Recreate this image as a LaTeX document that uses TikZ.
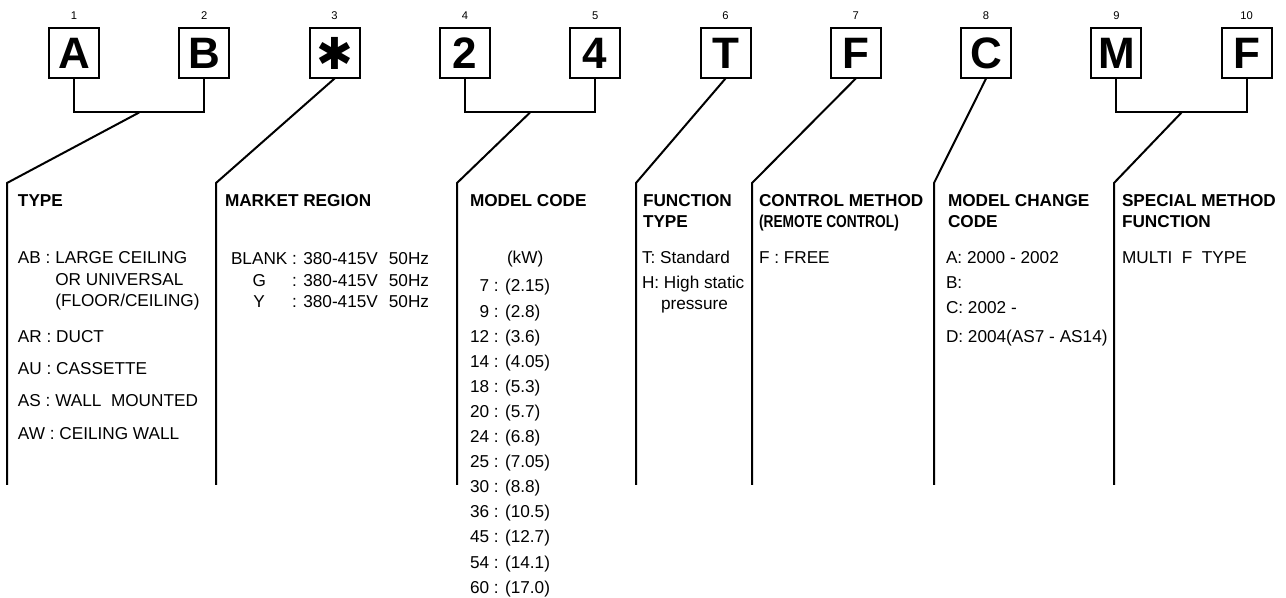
\documentclass[tikz,border=0pt]{standalone}
\usepackage{fontspec}
\setmainfont{Liberation Sans}
\newfontfamily\symfont{DejaVu Sans}
\usetikzlibrary{positioning, calc}

\begin{document}
\begin{tikzpicture}[
    x=0.5pt, y=-0.5pt,
    font=\fontsize{8.6}{10.7}\selectfont,
    node distance=40.15pt,
    every node/.style={inner sep=0pt, outer sep=0pt},
    codebox/.style={rectangle, draw, line width=1pt, minimum size=25pt,
                    font=\fontsize{22}{22}\selectfont\bfseries},
    idx/.style  ={font=\fontsize{5.6}{6}\selectfont},
    head/.style ={anchor=base west, font=\fontsize{8.6}{10.5}\selectfont\bfseries},
    body/.style ={anchor=base west},
    conn/.style ={line width=1pt}
]
\useasboundingbox (0,0) rectangle (1286,598);

% Code boxes
\node[codebox] (c1) at (74,53.5) {A};
\node[codebox, right=of c1] (c2)  {B};
\node[codebox, right=of c2] (c3)  {\symfont ✱};
\node[codebox, right=of c3] (c4)  {2};
\node[codebox, right=of c4] (c5)  {4};
\node[codebox, right=of c5] (c6)  {T};
\node[codebox, right=of c6] (c7)  {F};
\node[codebox, right=of c7] (c8)  {C};
\node[codebox, right=of c8] (c9)  {M};
\node[codebox, right=of c9] (c10) {F};

% Position numbers
\node[idx, above=4.5pt of c1]  (n1)  {1};
\node[idx, above=4.5pt of c2]  (n2)  {2};
\node[idx, above=4.5pt of c3]  (n3)  {3};
\node[idx, above=4.5pt of c4]  (n4)  {4};
\node[idx, above=4.5pt of c5]  (n5)  {5};
\node[idx, above=4.5pt of c6]  (n6)  {6};
\node[idx, above=4.5pt of c7]  (n7)  {7};
\node[idx, above=4.5pt of c8]  (n8)  {8};
\node[idx, above=4.5pt of c9]  (n9)  {9};
\node[idx, above=4.5pt of c10] (n10) {10};

% Joints, bends and column ends
\coordinate (j1) at ($(c1.south)!0.5!(c2.south)+(0,34)$);
\coordinate (j4) at ($(c4.south)!0.5!(c5.south)+(0,34)$);
\coordinate (j9) at ($(c9.south)!0.5!(c10.south)+(0,34)$);
\coordinate (k1) at (7,183);    \coordinate (e1) at (7,485);
\coordinate (k3) at (216,183);  \coordinate (e3) at (216,485);
\coordinate (k4) at (457,183);  \coordinate (e4) at (457,485);
\coordinate (k6) at (636,183);  \coordinate (e6) at (636,485);
\coordinate (k7) at (752,183);  \coordinate (e7) at (752,485);
\coordinate (k8) at (934,183);  \coordinate (e8) at (934,485);
\coordinate (k9) at (1114,183); \coordinate (e9) at (1114,485);

% Brackets
\draw[conn] (c1.south) -- ++(0,34) -| (c2.south);
\draw[conn] (c4.south) -- ++(0,34) -| (c5.south);
\draw[conn] (c9.south) -- ++(0,34) -| (c10.south);

% Leaders
\draw[conn] (j1) -- (k1) -- (e1);
\draw[conn] (c3.south) -- (k3) -- (e3);
\draw[conn] (j4) -- (k4) -- (e4);
\draw[conn] (c6.south) -- (k6) -- (e6);
\draw[conn] (c7.south) -- (k7) -- (e7);
\draw[conn] (c8.south) -- (k8) -- (e8);
\draw[conn] (j9) -- (k9) -- (e9);

% Headings
\node[head] (h1) at (18,207)   {TYPE};
\node[head] (h3) at (225,207)  {MARKET REGION};
\node[head] (h4) at (470,207)  {MODEL CODE};
\node[head] (h6) at (643,207)  {\begin{tabular}[t]{@{}l@{}}FUNCTION\\TYPE\end{tabular}};
\node[head] (h7) at (759,207)  {\begin{tabular}[t]{@{}l@{}}CONTROL METHOD\\
  \scalebox{0.8}[1]{\fontsize{8.6}{10.5}\selectfont(REMOTE CONTROL)}\end{tabular}};
\node[head] (h8) at (948,207)  {\begin{tabular}[t]{@{}l@{}}MODEL CHANGE\\CODE\end{tabular}};
\node[head] (h9) at (1122,207) {\begin{tabular}[t]{@{}l@{}}SPECIAL METHOD\\FUNCTION\end{tabular}};

% Column texts
\node[body] (t1) at (18,264) {\begin{tabular}[t]{@{}l@{}}
  AB : LARGE CEILING\\
  \hphantom{AB :\ }OR UNIVERSAL\\
  \hphantom{AB :\ }(FLOOR/CEILING)\\[7pt]
  AR : DUCT\\[5.6pt]
  AU : CASSETTE\\[5.3pt]
  AS : WALL\ \ MOUNTED\\[5.6pt]
  AW : CEILING WALL
  \end{tabular}};
\node[body] (t3) at (231,265) {\begin{tabular}[t]{@{}c@{\ }l@{}}
  BLANK & : 380-415V\hspace{5.5pt}50Hz\\
  G     & : 380-415V\hspace{5.5pt}50Hz\\
  Y     & : 380-415V\hspace{5.5pt}50Hz
  \end{tabular}};
\node[body] (kw) at (507,264) {(kW)};
\node[body] (t4) at (470,292) {\fontsize{8.6}{12.55}\selectfont
  \begin{tabular}[t]{@{}r@{ : }l@{}}
   7 & (2.15)\\  9 & (2.8)\\  12 & (3.6)\\ 14 & (4.05)\\
  18 & (5.3)\\  20 & (5.7)\\  24 & (6.8)\\ 25 & (7.05)\\
  30 & (8.8)\\  36 & (10.5)\\ 45 & (12.7)\\ 54 & (14.1)\\
  60 & (17.0)
  \end{tabular}};
\node[body] (t6) at (642,264) {\begin{tabular}[t]{@{}l@{}}
  T: Standard\\[1.5pt]
  H: High static\\
  \hspace*{9.5pt}pressure
  \end{tabular}};
\node[body] (t7) at (759,264) {F : FREE};
\node[body] (t8) at (946,264) {\begin{tabular}[t]{@{}l@{}}
  A: 2000 - 2002\\[1.8pt]
  B:\\[1.8pt]
  C: 2002 -\\[3.8pt]
  D: 2004(AS7 - AS14)
  \end{tabular}};
\node[body] (t9) at (1122,264) {MULTI\ \ F\ \ TYPE};
\end{tikzpicture}
\end{document}
